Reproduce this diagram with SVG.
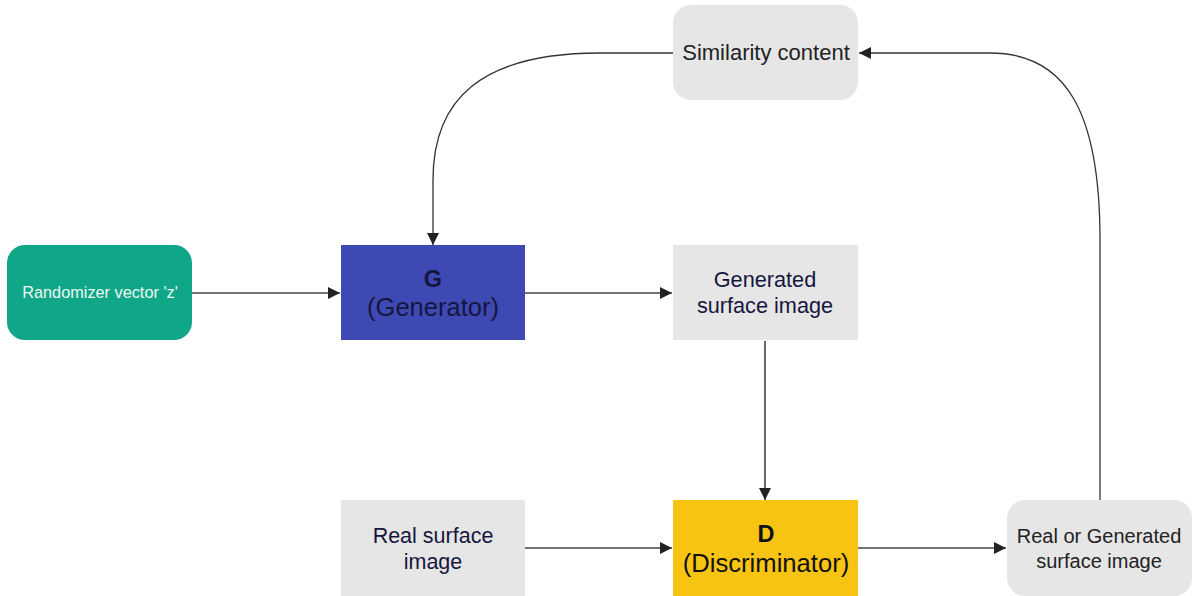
<svg xmlns="http://www.w3.org/2000/svg" width="1193" height="596" viewBox="0 0 1193 596">
  <style>
    .lbl { font-family: "Liberation Sans", Arial, sans-serif; text-anchor: middle; }
    .edge { fill: none; stroke: #444; stroke-width: 1.6; }
    .curve { fill: none; stroke: #333; stroke-width: 1.3; }
    .grey { fill: #e6e6e6; }
  </style>
  <defs>
    <marker id="arrow" viewBox="0 0 12 12" refX="12" refY="6" markerWidth="12" markerHeight="12" markerUnits="userSpaceOnUse" orient="auto">
      <path d="M0,0 L12,6 L0,12 Z" fill="#222"/>
    </marker>
  </defs>

  <rect width="1193" height="596" fill="#ffffff"/>

  <g id="connectors">
    <line class="edge" x1="192" y1="293" x2="340" y2="293" marker-end="url(#arrow)"/>
    <line class="edge" x1="525" y1="293" x2="672" y2="293" marker-end="url(#arrow)"/>
    <line class="edge" x1="765" y1="341" x2="765" y2="500" marker-end="url(#arrow)"/>
    <line class="edge" x1="525" y1="548" x2="672" y2="548" marker-end="url(#arrow)"/>
    <line class="edge" x1="858" y1="548" x2="1006" y2="548" marker-end="url(#arrow)"/>
    <path class="curve" d="M1100,500 L1100,240 C1100,110 1065,53 990,53 L859,53" marker-end="url(#arrow)"/>
    <path class="curve" d="M673,53 L600,53 C480,53 433,100 433,180 L433,245" marker-end="url(#arrow)"/>
  </g>

  <g id="randomizer">
    <rect x="7" y="245" width="185" height="95" rx="18" fill="#10a688"/>
    <text class="lbl" x="100" y="298" font-size="16.3" fill="#eef8f4">Randomizer vector 'z'</text>
  </g>

  <g id="generator">
    <rect x="341" y="245" width="184" height="95" fill="#3f49b3"/>
    <text class="lbl" x="433" y="287" font-size="23.5" font-weight="bold" fill="#14163f">G</text>
    <text class="lbl" x="433" y="316" font-size="25.5" fill="#14163f">(Generator)</text>
  </g>

  <g id="generated-image">
    <rect class="grey" x="673" y="245" width="185" height="95"/>
    <text class="lbl" x="765" y="287" font-size="21.7" fill="#16163f">Generated</text>
    <text class="lbl" x="765" y="313" font-size="21.7" fill="#16163f">surface image</text>
  </g>

  <g id="similarity">
    <rect class="grey" x="673" y="5" width="185" height="95" rx="18"/>
    <text class="lbl" x="766" y="60" font-size="22" fill="#222">Similarity content</text>
  </g>

  <g id="real-image">
    <rect class="grey" x="341" y="500" width="184" height="96"/>
    <text class="lbl" x="433" y="543" font-size="21.5" fill="#16163f">Real surface</text>
    <text class="lbl" x="433" y="569" font-size="21.5" fill="#16163f">image</text>
  </g>

  <g id="discriminator">
    <rect x="673" y="500" width="185" height="96" fill="#f8c414"/>
    <text class="lbl" x="766" y="542" font-size="23.5" font-weight="bold" fill="#111">D</text>
    <text class="lbl" x="766" y="572" font-size="25.6" fill="#111">(Discriminator)</text>
  </g>

  <g id="output">
    <rect class="grey" x="1007" y="500" width="185" height="96" rx="18"/>
    <text class="lbl" x="1099" y="543" font-size="20" fill="#222">Real or Generated</text>
    <text class="lbl" x="1099" y="568" font-size="20" fill="#222">surface image</text>
  </g>
</svg>
